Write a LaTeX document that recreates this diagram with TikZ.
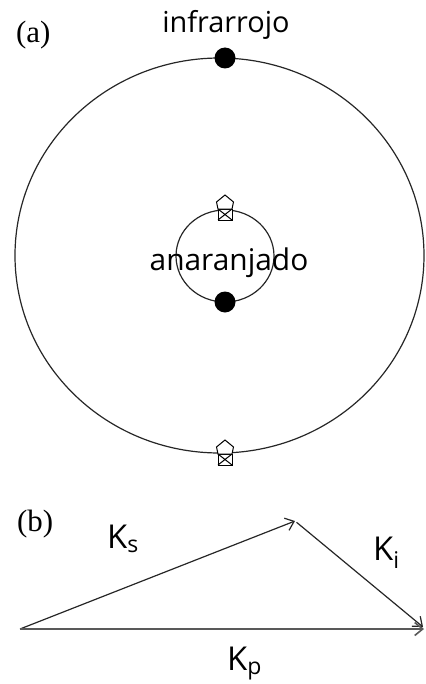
\documentclass[tikz,border=0pt]{standalone}
\usepackage{fontspec}
\setsansfont{Open Sans}
\newfontfamily\tagfont{Liberation Serif}
\usepackage{tikz}
\usetikzlibrary{arrows.meta,positioning,calc}
\tikzset{
  orbit/.style   ={draw=black!85, line width=1.2bp},
  photon/.style  ={circle, fill=black, inner sep=0pt, minimum size=21bp},
  lbl/.style     ={font=\sffamily\fontsize{29}{31}\selectfont, inner sep=0pt},
  tag/.style     ={font=\tagfont\fontsize{31}{33}\selectfont, inner sep=0pt},
  klbl/.style    ={font=\sffamily\fontsize{33}{36}\selectfont, inner sep=0pt},
  vec/.style     ={-{Straight Barb[length=8bp,width=13bp]}, line width=1.2bp, draw=black!85},
  detector/.pic  ={
    \draw[line width=1bp, fill=white] (-7,0) rectangle (7,11);
    \draw[line width=1bp] (-7,0) -- (7,11) (7,0) -- (-7,11);
    \draw[line width=1bp, fill=white] (-7,0) -- (7,0) -- (8.5,-7) -- (0,-14) -- (-8.5,-7) -- cycle;
  }
}
\begin{document}
\begin{tikzpicture}[x=1bp, y=-1bp]
\useasboundingbox (0,0) rectangle (425,684);

% (a) ring picture
\node[tag, anchor=base west] (taga) at (16,43) {(a)};
\draw[orbit] (219.5,255.5) ellipse [x radius=204.5bp, y radius=197.5bp];
\draw[orbit] (225,256) ellipse [x radius=49bp, y radius=46bp];
\node[photon] (idot) at (225,58) {};
\node[photon] (odot) at (225,302) {};
\node[lbl, anchor=base] (ir) at (226,33) {infrarrojo};
\node[lbl, anchor=base, font=\sffamily\fontsize{30}{32}\selectfont] (or) at (229,270) {anaranjado};
\pic at (225,209) {detector};
\pic at (225,454) {detector};

% (b) wave vectors
\node[tag, anchor=base west] (tagb) at (17,531) {(b)};
\coordinate (o) at (20,629);
\coordinate (apex) at (295,521);
\coordinate (p) at (424,629);
\coordinate (ki) at (423,627);
\draw[vec] (o) -- (apex);
\draw[vec, shorten <=2bp] (apex) -- (ki);
\draw[vec, line width=1.6bp, draw=black!65] (o) -- (p);
\node[klbl, anchor=base west] (ks) at (107,548) {K\textsubscript{s}};
\node[klbl, anchor=base west] (kil) at (373,560) {K\textsubscript{i}};
\node[klbl, anchor=base west] (kp) at (227,670) {K\textsubscript{p}};
\end{tikzpicture}
\end{document}
